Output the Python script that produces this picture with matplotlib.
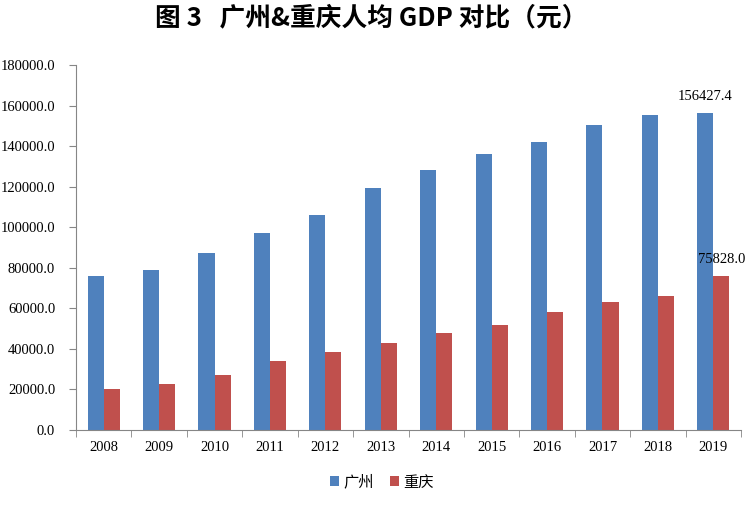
import numpy as np
import matplotlib
matplotlib.use("Agg")
import matplotlib.pyplot as plt

# data
years = ["2008", "2009", "2010", "2011", "2012", "2013", "2014", "2015", "2016", "2017", "2018", "2019"]
guangzhou = [76000, 79000, 87300, 97200, 105900, 119500, 128300, 136200, 141800, 150500, 155400, 156427.4]
chongqing = [20300, 22800, 27300, 34200, 38700, 43000, 47600, 52000, 58300, 63300, 65900, 75828.0]
yticks = np.arange(0, 180001, 20000)

plt.rcParams['font.family'] = ['Noto Sans CJK SC', 'DejaVu Sans']
serif = ['Liberation Serif', 'DejaVu Serif']
axcol = '#868686'
fs = 10.5

fig = plt.figure(figsize=(7.54, 5.16), dpi=100)
ax = fig.add_axes([76/754, 86/516, 665/754, 365/516])

x = np.arange(len(years))
w = 0.29
ax.bar(x - w/2, guangzhou, w, color='#4F81BD', label='广州')
ax.bar(x + w/2, chongqing, w, color='#C0504D', label='重庆')

ax.set_xlim(-0.5, len(years) - 0.5)
ax.set_ylim(0, 180000)
ax.set_yticks(yticks)
ax.set_yticklabels(["%.1f" % v for v in yticks], family=serif, fontsize=fs)
ax.set_xticks(x)
ax.set_xticklabels(years, family=serif, fontsize=fs)
ax.set_xticks(np.arange(-0.5, len(years)), minor=True)
ax.tick_params(axis='x', which='major', length=0, pad=8)
ax.tick_params(axis='x', which='minor', length=5, color=axcol, direction='out')
ax.tick_params(axis='y', length=5, color=axcol, direction='out', pad=10)
for s in ['top', 'right']:
    ax.spines[s].set_visible(False)
for s in ['left', 'bottom']:
    ax.spines[s].set_color(axcol)

# value labels on the last year
ax.text(x[-1] - w/2, guangzhou[-1] + 5000, "%.1f" % guangzhou[-1], ha='center', va='bottom',
        family=serif, fontsize=fs)
ax.text(x[-1] + w/2, chongqing[-1] + 5000, "%.1f" % chongqing[-1], ha='center', va='bottom',
        family=serif, fontsize=fs)

fig.text(0.492, 0.965, "图 3   广州&重庆人均 GDP 对比（元）", ha='center', va='center',
         fontsize=18.5, fontweight='bold')

fig.legend(loc='center', bbox_to_anchor=(382/754, 1 - 482/516), ncol=2, frameon=False,
           fontsize=11, handlelength=0.6, handleheight=0.6, handletextpad=0.3, columnspacing=1.0)

fig.savefig("out.png", dpi=100)
